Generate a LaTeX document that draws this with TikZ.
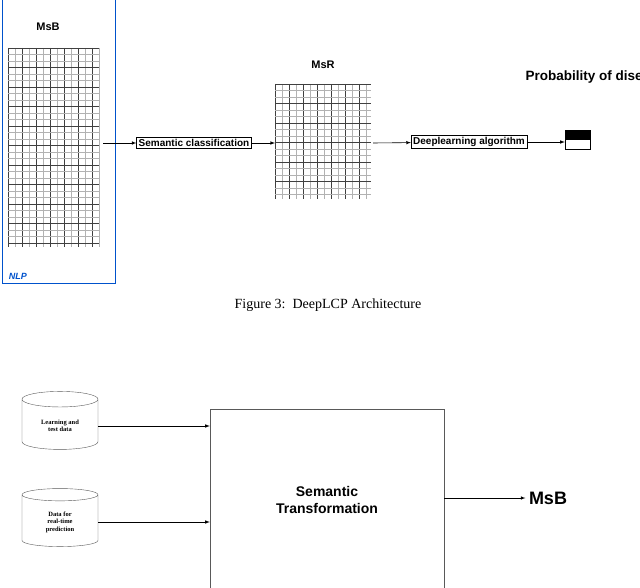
\documentclass[tikz,border=0pt]{standalone}
\usepackage{fontspec}
\setmainfont{Liberation Serif}
\newfontfamily\sansf{Liberation Sans}
\usetikzlibrary{shapes.geometric,positioning}
\tikzset{
  lbl/.style={font=\sansf\bfseries\fontsize{11}{13}\selectfont},
  step box/.style={draw,semithick,inner sep=2pt,font=\sansf\bfseries\fontsize{10}{12}\selectfont},
  db/.style={cylinder,shape border rotate=90,draw,gray!70!black,aspect=0.35,
    minimum width=76pt,minimum height=58pt,text=black,align=center,
    font=\fontsize{6.5}{7.5}\selectfont\bfseries},
  link/.style={-latex,semithick}
}
\newcommand{\matgrid}[4]{%
  \pgfmathsetmacro{\gw}{#3-#1}\pgfmathsetmacro{\gh}{#4-#2}%
  \pgfmathtruncatemacro{\nc}{\gw/7}\pgfmathtruncatemacro{\nr}{\gh/6.5}%
  \foreach \i in {0,...,\nc} {
    \pgfmathsetmacro{\xx}{#1+\i*7}
    \pgfmathtruncatemacro{\m}{mod(\i,2)}
    \ifnum\m=0 \draw[black!75,line width=0.5pt] (\xx,#2) -- (\xx,#4);
    \else \draw[gray!60,line width=0.3pt] (\xx,#2) -- (\xx,#4); \fi
  }
  \foreach \j in {0,...,\nr} {
    \pgfmathsetmacro{\yy}{#2+\j*6.5}
    \pgfmathtruncatemacro{\m}{mod(\j,3)}
    \ifnum\m=0 \draw[black!75,line width=0.5pt] (#1,\yy) -- (#3,\yy);
    \else \draw[gray!60,line width=0.3pt] (#1,\yy) -- (#3,\yy); \fi
  }
}
\begin{document}
\begin{tikzpicture}[x=1pt,y=-1pt]
\useasboundingbox (0,0) rectangle (640,588);
% top figure
\draw[blue!60!cyan!80!black,thick] (2,-2) rectangle (115,283);
\node[font=\sansf\bfseries\itshape\small,text=blue!60!cyan!80!black] (nlp) at (18,276) {NLP};
\node[lbl] (msb) at (48,27) {MsB};
\matgrid{8}{48}{99}{247}
\coordinate (gb) at (103,143);
\node[step box] (sem) at (194,143) {Semantic classification};
\node[lbl] (msr) at (323,65) {MsR};
\matgrid{275}{84}{371}{199}
\coordinate (gr1) at (275,143);
\coordinate (gr2) at (373,143);
\node[step box] (dl) at (469,142) {Deeplearning algorithm};
\node[draw,thin,minimum width=25pt,minimum height=19pt,inner sep=0pt] (out) at (577.5,139.5) {};
\fill (out.north west) rectangle ([yshift=-1pt]out.east);
\node[font=\sansf\bfseries\fontsize{13.5}{16}\selectfont,anchor=west] (prob) at (522,77) {Probability of disease};
\draw[link] (gb) -- (sem);
\draw[link] (sem) -- (gr1);
\draw[link] (gr2) -- (dl);
\draw[link] (dl) -- (out.west |- dl);
\node[font=\fontsize{14}{16}\selectfont] (cap) at (328,305) {Figure 3:\ \ DeepLCP Architecture};
% bottom figure
\node[db] (learn) at (60,426) {Learning and\\test data};
\node[db] (rt) at (60,522) {Data for\\real-time\\prediction};
\node[draw,gray!70!black,minimum width=234pt,minimum height=182pt,inner sep=0pt,
  text=black,align=center,font=\sansf\bfseries\fontsize{14}{17}\selectfont] (trans) at (327,500) {Semantic\\Transformation};
\node[font=\sansf\bfseries\fontsize{18}{20}\selectfont] (msbout) at (548,498) {MsB};
\draw[link] (learn.east) -- (trans.west |- learn.east);
\draw[link] (rt.east) -- (trans.west |- rt.east);
\draw[link] (trans.east |- msbout) -- (msbout);
\end{tikzpicture}
\end{document}
